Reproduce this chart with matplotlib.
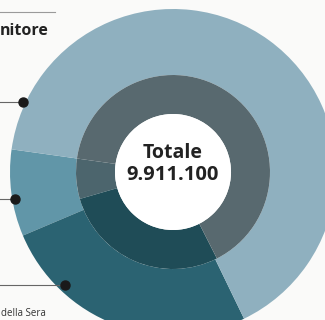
import matplotlib
matplotlib.use("Agg")
import matplotlib.pyplot as plt

# Data (shares in percent)
outer_labels = ["Medio", "Scuro", "Principale"]
outer_values = [8.6, 25.8, 65.6]
inner_labels = ["Medio", "Scuro", "Principale"]
inner_values = [6.7, 28.0, 65.3]
total_label = "Totale"
total_value = "9.911.100"

outer_colors = ["#6196a8", "#2b6372", "#8fb0bf"]
inner_colors = ["#4c656d", "#1f4c57", "#58696f"]

W, H = 325, 320
bg = "#fafaf9"
fig = plt.figure(figsize=(W / 100, H / 100), dpi=100)
fig.patch.set_facecolor(bg)
ax = fig.add_axes([0, 0, 1, 1])
ax.set_facecolor(bg)

cx, cy = 173, H - 172
R_out, R_mid, R_in = 163, 97, 58

ax.pie(outer_values, colors=outer_colors, startangle=172, counterclock=True,
       radius=R_out, center=(cx, cy),
       wedgeprops=dict(width=R_out - R_mid, linewidth=0))
ax.pie(inner_values, colors=inner_colors, startangle=172, counterclock=True,
       radius=R_mid, center=(cx, cy),
       wedgeprops=dict(width=R_mid - R_in, linewidth=0))
ax.add_patch(plt.Circle((cx, cy), R_in, color="white", lw=0))

ax.set_xlim(0, W)
ax.set_ylim(0, H)
ax.set_aspect("auto")
ax.axis("off")

# centre text
ax.text(cx, H - 153, total_label, ha="center", va="center", fontsize=14,
        fontweight="bold", family="Open Sans", color="#222222")
ax.text(cx, H - 175, total_value, ha="center", va="center", fontsize=14.5,
        fontweight="bold", family="Open Sans", color="#222222")

# top rule and heading fragment
ax.plot([0, 55], [H - 12, H - 12], color="#9a9a9a", lw=0.8)
ax.text(0, H - 31, "nitore", ha="left", va="center", fontsize=11.5,
        fontweight="bold", family="Open Sans", color="#222222")

# leader lines with dots
for (px, py) in [(23, 102), (15, 199), (65, 285)]:
    ax.plot([0, px], [H - py, H - py], color="#666666", lw=0.8)
    ax.plot([px], [H - py], marker="o", ms=6.5, color="#1a1a1a")

ax.text(1, H - 314, "della Sera", ha="left", va="center", fontsize=7,
        family="Open Sans", color="#333333")

fig.savefig("out.png", dpi=100, facecolor=fig.get_facecolor())
